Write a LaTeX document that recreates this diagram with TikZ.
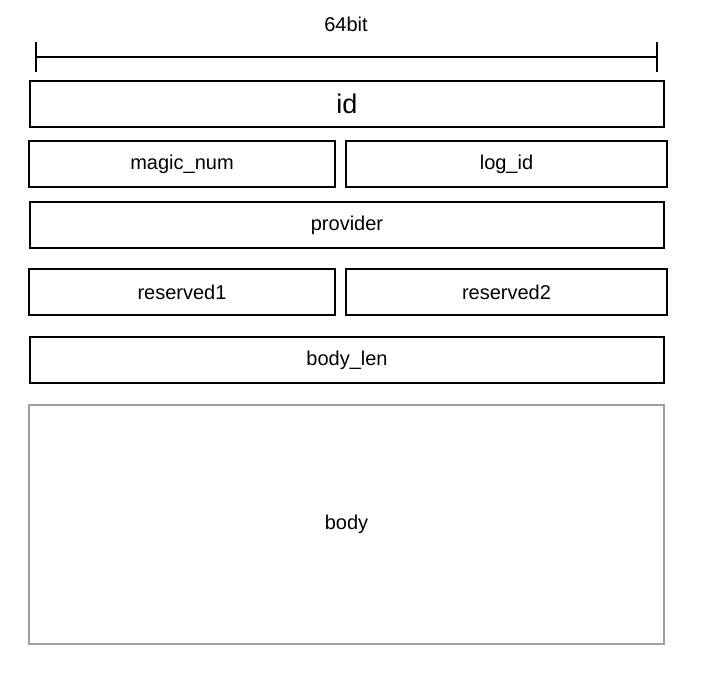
\documentclass[tikz,border=0pt]{standalone}
\usepackage{fontspec}
\setmainfont{Liberation Sans}
\usepackage{tikz}
\usetikzlibrary{positioning, calc}

\begin{document}
\begin{tikzpicture}[x=1pt, y=-1pt,
    field/.style={draw=black, line width=2pt, fill=white, inner sep=0pt,
        font=\fontsize{20}{24}\selectfont},
    wide/.style={field, minimum width=634pt, minimum height=46pt},
    left half/.style={field, minimum width=306pt, minimum height=46pt},
    right half/.style={field, minimum width=321pt, minimum height=46pt},
    bodybox/.style={field, draw=gray!75, line width=2.4pt,
        minimum width=635pt, minimum height=239pt}]
    \useasboundingbox (0,0) rectangle (706,685);

    % width marker: 64 bit across the header
    \coordinate (w) at (36,57);
    \coordinate (e) at (657,57);
    \draw[line width=2pt] (w) -- (e);
    \draw[line width=2pt] ($(w)+(0,-15)$) -- ($(w)+(0,15)$);
    \draw[line width=2pt] ($(e)+(0,-15)$) -- ($(e)+(0,15)$);
    \node[font=\fontsize{20}{24}\selectfont] (bits) at (346,24) {64bit};

    % header fields, one row per 64 bit
    \node[wide, font=\fontsize{27}{32}\selectfont] (id) at (347,103.5) {id};
    \node[left half] (magic) at (182,164) {magic\_num};
    \node[right half] (logid) at (506.5,164) {log\_id};
    \node[wide] (provider) at (347,225) {provider};
    \node[left half] (res1) at (182,292) {reserved1};
    \node[right half] (res2) at (506.5,292) {reserved2};
    \node[wide] (bodylen) at (347,360) {body\_len};

    % payload
    \node[bodybox] (body) at (346.5,524.5) {body};
\end{tikzpicture}
\end{document}
